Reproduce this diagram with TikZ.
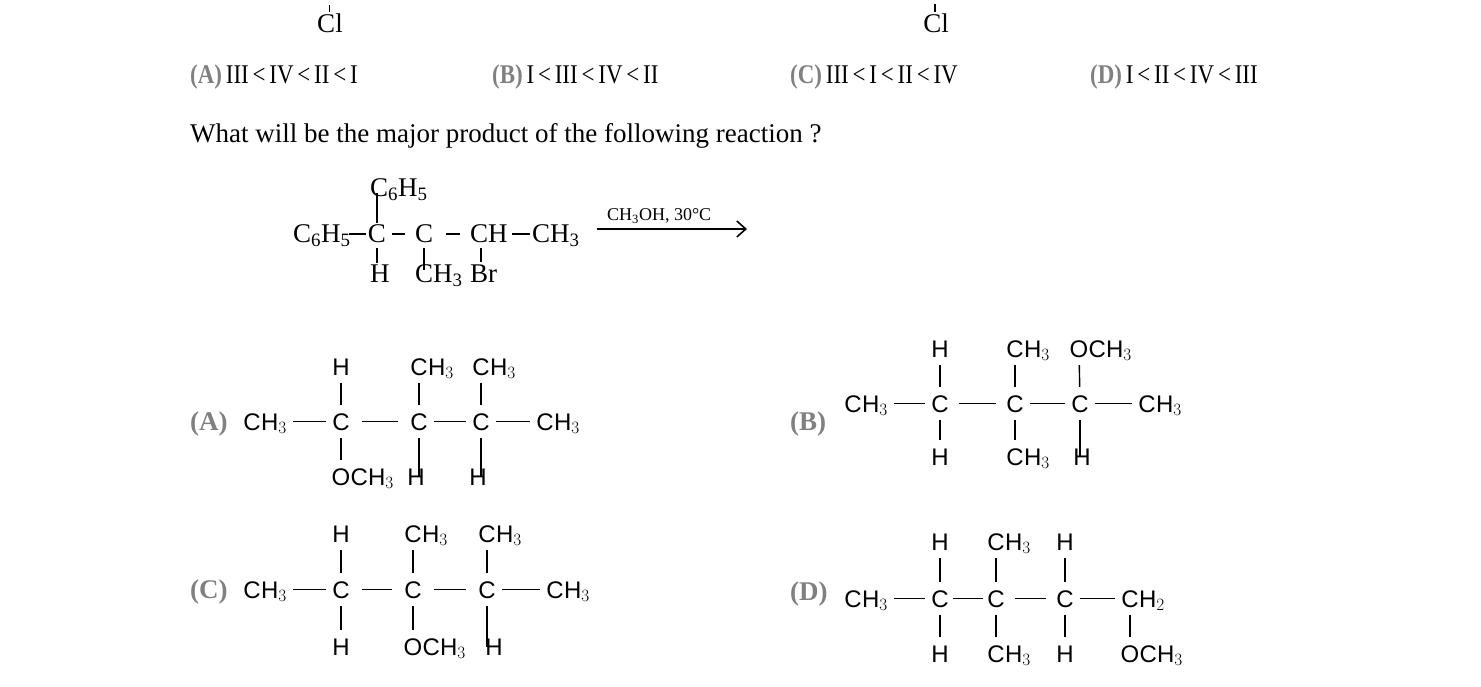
\documentclass[tikz,border=0pt]{standalone}
\usepackage{fontspec}
\usetikzlibrary{arrows.meta}
\setmainfont{Liberation Serif}
\newfontfamily\chemsans{Liberation Sans}
\begin{document}
\begin{tikzpicture}[x=1pt,y=-1pt,
  sat/.style={inner sep=0pt,anchor=base,font=\chemsans\fontsize{24}{24}\selectfont,text height=17pt,text depth=0pt},
  srest/.style={inner sep=0pt,anchor=base west,font=\chemsans\fontsize{24}{24}\selectfont,text height=17pt,text depth=0pt},
  ser/.style={inner sep=0pt,anchor=base west,font=\fontsize{27}{27}\selectfont},
  lab/.style={inner sep=0pt,anchor=base west,font=\bfseries\fontsize{27}{27}\selectfont,text=black!50},
  hb/.style={line width=1.4pt,shorten <=6pt,shorten >=6pt},
  vb/.style={line width=1.4pt,shorten <=8pt,shorten >=8pt},
  rb/.style={line width=1.6pt}]
\useasboundingbox (0,0) rectangle (1481,687);
% top fragments
\node[ser,anchor=base] (cl1) at (330,33) {Cl};
\coordinate (t1) at (329,5);
\draw[line width=1pt] (t1) -- ++(0,7);
\node[ser,anchor=base] (cl2) at (936,33) {Cl};
\coordinate (t2) at (935,4);
\draw[line width=2.5pt] (t2) -- ++(0,8);
% options
\newcommand\optrow[3]{\node[inner sep=0pt,anchor=base west] (#1) at (#2,84) {\scalebox{0.85}[1]{\fontsize{27}{27}\selectfont\textcolor{black!50}{\bfseries(#1)}\,#3}};}
\optrow{A}{190}{III\,<\,IV\,<\,II\,<\,I}
\optrow{B}{492}{I\,<\,III\,<\,IV\,<\,II}
\optrow{C}{790}{III\,<\,I\,<\,II\,<\,IV}
\optrow{D}{1090}{I\,<\,II\,<\,IV\,<\,III}
\node[ser] (q) at (190,143) {What will be the major product of the following reaction ?};
% reactant
\node[ser] (r1) at (293,243) {C\textsubscript{6}H\textsubscript{5}};
\node[ser,anchor=base] (r2) at (377,243) {C};
\node[ser,anchor=base] (r3) at (424,243) {C};
\node[ser] (r4) at (470,243) {CH};
\node[ser] (r5) at (532,243) {CH\textsubscript{3}};
\node[ser] (r6) at (370,197) {C\textsubscript{6}H\textsubscript{5}};
\node[ser] (r7) at (370,283) {H};
\node[ser] (r8) at (415,283) {CH\textsubscript{3}};
\node[ser] (r9) at (470,283) {Br};
\coordinate (b1) at (349,234); \draw[rb] (b1) -- ++(17,0);
\coordinate (b2) at (392,234); \draw[rb] (b2) -- ++(13,0);
\coordinate (b3) at (446,234); \draw[rb] (b3) -- ++(14,0);
\coordinate (b4) at (512,234); \draw[rb] (b4) -- ++(18,0);
\draw[rb] (r2.north) ++(0,-2) -- (377,193);
\draw[rb] (377,248) -- (377,263);
\draw[rb] (424,248) -- (424,270);
\draw[rb] (481,248) -- (481,262);
\coordinate (a0) at (597,229); \coordinate (a1) at (747,229);
\draw[line width=1.3pt,-{Straight Barb[length=9pt,width=16pt,line width=1.6pt]}] (a0) -- (a1);
\node[inner sep=0pt,anchor=base west,font=\fontsize{18}{18}\selectfont] (cond) at (607,221) {CH\textsubscript{3}OH, 30\textdegree C};
% generic group macro
\newcommand\grp[5]{\node[sat] (#1) at (#2,#3) {#4}; \node[srest] (#1r) at (#1.base east) {#5};}
% (A)
\node[lab] (la) at (190,430) {(A)};
\grp{a1}{252}{430}{C}{H$_3$}
\node[sat] (a2) at (341,430) {C};
\node[sat] (a3) at (419,430) {C};
\node[sat] (a4) at (481,430) {C};
\grp{a5}{545}{430}{C}{H$_3$}
\node[sat] (a6) at (341,375) {H};
\grp{a7}{419}{375}{C}{H$_3$}
\grp{a8}{481}{375}{C}{H$_3$}
\grp{a9}{341}{485}{O}{CH$_3$}
\node[sat] (a10) at (416,485) {H};
\node[sat] (a11) at (478,485) {H};
\draw[hb] (a1r) -- (a2); \draw[hb,shorten <=12pt,shorten >=12pt] (a2) -- (a3); \draw[hb] (a3) -- (a4); \draw[hb] (a4) -- (a5);
\draw[vb] (a6) -- (a2); \draw[vb] (a7) -- (a3); \draw[vb] (a8) -- (a4);
\draw[vb] (a2) -- (a9); \draw[vb] (a3) -- (419,485); \draw[vb] (a4) -- (481,485);
% (B)
\node[lab] (lb) at (790,430) {(B)};
\grp{b1}{853}{412}{C}{H$_3$}
\node[sat] (b2) at (940,412) {C};
\node[sat] (b3) at (1015,412) {C};
\node[sat] (b4) at (1080,412) {C};
\grp{b5}{1147}{412}{C}{H$_3$}
\node[sat] (b6) at (940,357) {H};
\grp{b7}{1015}{357}{C}{H$_3$}
\grp{b8}{1079}{357}{O}{CH$_3$}
\node[sat] (b9) at (940,465) {H};
\grp{b10}{1015}{465}{C}{H$_3$}
\node[sat] (b11) at (1082,465) {H};
\draw[hb] (b1r) -- (b2); \draw[hb,shorten <=10pt,shorten >=10pt] (b2) -- (b3); \draw[hb] (b3) -- (b4); \draw[hb] (b4) -- (b5);
\draw[vb] (b6) -- (b2); \draw[vb] (b7) -- (b3); \draw[vb] (b8) -- (b4);
\draw[vb] (b2) -- (b9); \draw[vb] (b3) -- (b10); \draw[vb] (b4) -- (1080,465);
% (C)
\node[lab] (lc) at (190,598) {(C)};
\grp{c1}{252}{598}{C}{H$_3$}
\node[sat] (c2) at (341,598) {C};
\node[sat] (c3) at (413,598) {C};
\node[sat] (c4) at (487,598) {C};
\grp{c5}{555}{598}{C}{H$_3$}
\node[sat] (c6) at (341,542) {H};
\grp{c7}{413}{542}{C}{H$_3$}
\grp{c8}{487}{542}{C}{H$_3$}
\node[sat] (c9) at (341,655) {H};
\grp{c10}{413}{655}{O}{CH$_3$}
\node[sat] (c11) at (494,655) {H};
\draw[hb] (c1r) -- (c2); \draw[hb,shorten <=12pt,shorten >=12pt] (c2) -- (c3); \draw[hb,shorten <=12pt,shorten >=12pt] (c3) -- (c4); \draw[hb] (c4) -- (c5);
\draw[vb] (c6) -- (c2); \draw[vb] (c7) -- (c3); \draw[vb] (c8) -- (c4);
\draw[vb] (c2) -- (c9); \draw[vb] (c3) -- (c10); \draw[vb] (c4) -- (487,655);
% (D)
\node[lab] (ld) at (790,600) {(D)};
\grp{d1}{853}{607}{C}{H$_3$}
\node[sat] (d2) at (940,607) {C};
\node[sat] (d3) at (996,607) {C};
\node[sat] (d4) at (1065,607) {C};
\grp{d5}{1130}{607}{C}{H$_2$}
\node[sat] (d6) at (940,550) {H};
\grp{d7}{996}{550}{C}{H$_3$}
\node[sat] (d8) at (1065,550) {H};
\node[sat] (d9) at (940,662) {H};
\grp{d10}{996}{662}{C}{H$_3$}
\node[sat] (d11) at (1065,662) {H};
\grp{d12}{1130}{662}{O}{CH$_3$}
\draw[hb] (d1r) -- (d2); \draw[hb,shorten <=4pt,shorten >=4pt] (d2) -- (d3); \draw[hb,shorten <=10pt,shorten >=10pt] (d3) -- (d4); \draw[hb] (d4) -- (d5);
\draw[vb] (d6) -- (d2); \draw[vb] (d7) -- (d3); \draw[vb] (d8) -- (d4);
\draw[vb] (d2) -- (d9); \draw[vb] (d3) -- (d10); \draw[vb] (d4) -- (d11); \draw[vb] (d5) -- (d12);
\end{tikzpicture}
\end{document}
